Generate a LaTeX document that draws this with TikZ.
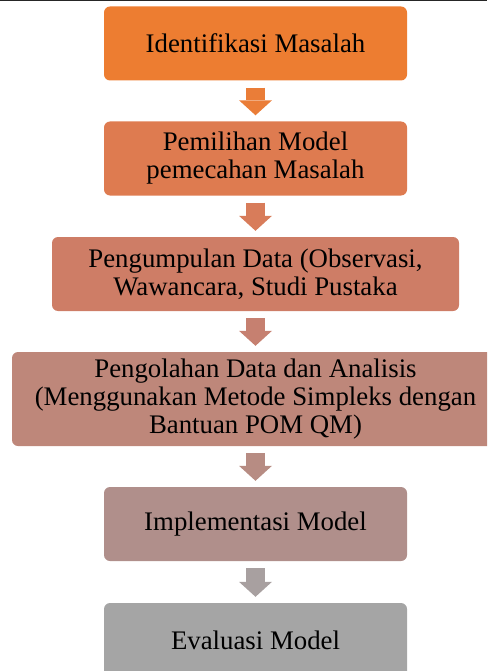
\documentclass[tikz,border=0pt]{standalone}
\usepackage{fontspec}
\setmainfont{Liberation Serif}
\usetikzlibrary{arrows.meta}

\definecolor{tahap1}{RGB}{237,125,49}
\definecolor{tahap2}{RGB}{222,123,80}
\definecolor{tahap3}{RGB}{206,125,102}
\definecolor{tahap4}{RGB}{190,135,122}
\definecolor{tahap5}{RGB}{176,143,139}
\definecolor{tahap6}{RGB}{165,165,165}
\definecolor{panah1}{RGB}{234,125,56}
\definecolor{panah2}{RGB}{216,124,90}
\definecolor{panah3}{RGB}{198,128,112}
\definecolor{panah4}{RGB}{183,140,131}
\definecolor{panah5}{RGB}{168,160,160}

\begin{document}
\begin{tikzpicture}[x=1pt,y=-1pt,
    every node/.style={rounded corners=6pt,inner sep=0pt,minimum width=303pt,minimum height=74pt,align=center,font=\fontsize{26.8}{28}\selectfont},
    panah/.style={line width=19pt,draw=#1,-{Triangle[length=15pt,width=33pt,line width=0pt,fill=#1]},shorten <=7pt,shorten >=6pt}]
            \useasboundingbox (0,0) rectangle (487,671);
            \clip (0,0) rectangle (487,671);
            \draw [line width=1.5pt,black!85] (0,0.75) -- (487,0.75);

            \node [fill=tahap1] (idn) at (255.5,43.5) {Identifikasi Masalah};
            \node [fill=tahap2] (pml) at (255.5,158.5) {Pemilihan Model\\pemecahan Masalah};
            \node [fill=tahap3,minimum width=407pt] (pgd) at (255.5,274) {Pengumpulan Data (Observasi,\\Wawancara, Studi Pustaka};
            \node [fill=tahap4,minimum width=487pt,minimum height=94pt] (olh) at (255.5,399) {Pengolahan Data dan Analisis\\(Menggunakan Metode Simpleks dengan\\Bantuan POM QM)};
            \node [fill=tahap5] (imp) at (255.5,524) {Implementasi Model};
            \node [fill=tahap6] (evl) at (255.5,640) {Evaluasi Model};

            \path [panah=panah1] (idn) edge (pml);
            \path [panah=panah2] (pml) edge (pgd);
            \path [panah=panah3] (pgd) edge (olh);
            \path [panah=panah4] (olh) edge (imp);
            \path [panah=panah5] (imp) edge (evl);
        \end{tikzpicture}
\end{document}
